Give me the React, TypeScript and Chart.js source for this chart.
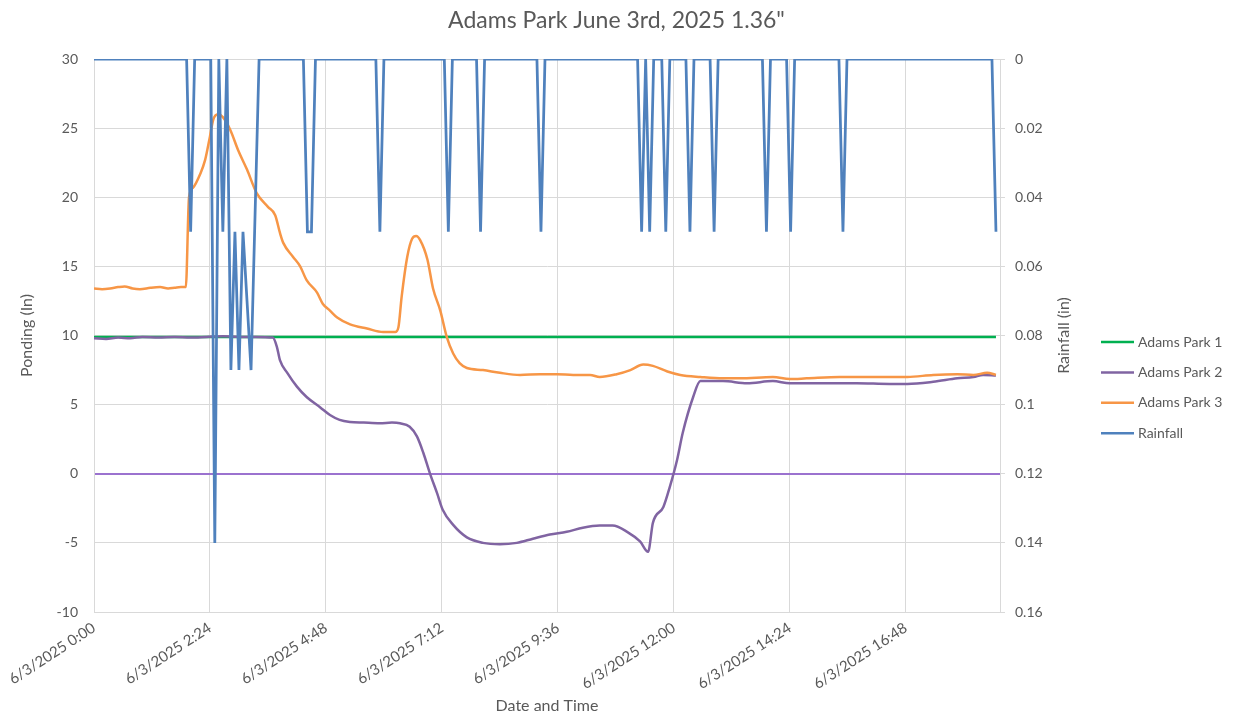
import React, { useEffect, useRef } from "react";
import { Chart, registerables } from "chart.js";

Chart.register(...registerables);

// ---------- text ----------
const TITLE = 'Adams Park June 3rd, 2025 1.36"';
const DATE_PREFIX = "6/3/2025";
const X_TITLE = "Date and Time";
const Y_LEFT_TITLE = "Ponding (In)";
const Y_RIGHT_TITLE = "Rainfall (in)";
const SERIES_NAMES = ["Adams Park 1", "Adams Park 2", "Adams Park 3", "Rainfall"];

// ---------- axes (minutes after midnight for x) ----------
const X_MIN = 0;
const X_MAX = 1125;
const X_STEP = 144;
const PONDING_MIN = -10;
const PONDING_MAX = 30;
const PONDING_STEP = 5;
const RAIN_MIN = 0;
const RAIN_MAX = 0.16;
const RAIN_STEP = 0.02;

// ---------- data ----------
// Rainfall: 5-minute record, zero except at these times
const RAIN_END = 1120;
const RAIN_INTERVAL = 5;
const rainTimes = [120, 150, 160, 170, 175, 180, 185, 190, 195, 200, 265, 270, 355, 440, 480, 555, 680, 690, 710, 740, 770, 835, 865, 930, 1120];
const rainValues = [0.05, 0.14, 0.05, 0.09, 0.05, 0.09, 0.05, 0.07, 0.09, 0.045, 0.05, 0.05, 0.05, 0.05, 0.05, 0.05, 0.05, 0.05, 0.05, 0.05, 0.05, 0.05, 0.05, 0.05, 0.05];

// Adams Park 1: [minute, inches]
const adamsPark1: [number, number][] = [[0, 9.9], [560, 9.9], [1120, 9.9]];

// Adams Park 2: [minute, inches]
const adamsPark2: [number, number][] = [
  [0, 9.8], [15, 9.75], [30, 9.85], [45, 9.8], [60, 9.9], [80, 9.85], [100, 9.9], [120, 9.85],
  [140, 9.9], [160, 9.95], [180, 9.9], [200, 9.9], [222, 9.85], [227, 9.2], [231, 8.2], [240, 7.3],
  [252, 6.3], [264, 5.55], [281, 4.8], [293, 4.25], [305, 3.9], [318, 3.75], [335, 3.7], [355, 3.65],
  [370, 3.7], [380, 3.65], [392, 3.4], [401, 2.7], [409, 1.5], [417, 0.05], [426, -1.4], [433, -2.6],
  [446, -3.7], [463, -4.6], [483, -5.0], [504, -5.1], [525, -5.0], [545, -4.7], [566, -4.4], [587, -4.2],
  [607, -3.9], [628, -3.75], [644, -3.75], [662, -4.2], [678, -4.9], [688, -5.65], [694, -3.55], [707, -2.4],
  [715, -0.95], [724, 1.0], [731, 2.95], [744, 5.55], [753, 6.7], [765, 6.7], [781, 6.7], [811, 6.55],
  [843, 6.7], [864, 6.55], [905, 6.55], [947, 6.55], [988, 6.5], [1010, 6.5], [1042, 6.65], [1072, 6.9],
  [1092, 7.0], [1104, 7.15], [1120, 7.1],
];

// Adams Park 3: [minute, inches]
const adamsPark3: [number, number][] = [
  [0, 13.4], [10, 13.35], [20, 13.4], [30, 13.5], [38, 13.55], [48, 13.4], [57, 13.35], [70, 13.45],
  [82, 13.5], [92, 13.4], [100, 13.45], [108, 13.5], [114, 13.5], [118, 20.0], [123, 20.7], [132, 21.7],
  [138, 22.7], [144, 24.4], [148, 25.6], [154, 26.0], [160, 25.8], [169, 24.9], [179, 23.4], [190, 22.0],
  [202, 20.3], [216, 19.3], [225, 18.7], [231, 17.4], [235, 16.7], [247, 15.7], [256, 15.0], [264, 14.0],
  [277, 13.1], [284, 12.3], [293, 11.8], [302, 11.3], [318, 10.8], [339, 10.5], [359, 10.25], [374, 10.25],
  [378, 10.6], [382, 12.8], [389, 15.7], [395, 17.0], [400, 17.2], [405, 16.9], [414, 15.5], [421, 13.4],
  [430, 11.8], [438, 9.9], [446, 8.7], [454, 8.0], [463, 7.65], [483, 7.5], [504, 7.3], [529, 7.15],
  [554, 7.2], [575, 7.2], [595, 7.15], [616, 7.15], [628, 7.0], [649, 7.2], [666, 7.5], [682, 7.9],
  [694, 7.8], [712, 7.4], [728, 7.15], [753, 7.0], [781, 6.9], [802, 6.9], [843, 7.0], [864, 6.85],
  [885, 6.9], [926, 7.0], [967, 7.0], [1010, 7.0], [1042, 7.15], [1072, 7.2], [1092, 7.15], [1109, 7.3],
  [1120, 7.15],
];

// ---------- styles ----------
const FONT = "Lato, 'Open Sans', sans-serif";
const TEXT = "#595959";
const GRID = "#D9D9D9";
const ZERO_LINE = "#9B72CF";
const COLORS = ["#00B050", "#8064A2", "#F79646", "#4F81BD"];

const pad2 = (n: number) => (n < 10 ? "0" + n : String(n));
const fmtTime = (v: number) => `${DATE_PREFIX} ${Math.floor(v / 60)}:${pad2(Math.round(v % 60))}`;

const sideLegend = {
  id: "sideLegend",
  afterDraw(chart: any) {
    const ctx = chart.ctx;
    const area = chart.chartArea;
    const x0 = 1101, x1 = 1134, tx = 1138, y0 = 342, dy = 30.4;
    ctx.save();
    // right axis title, reading bottom-to-top
    ctx.font = `16px ${FONT}`;
    ctx.fillStyle = TEXT;
    ctx.textAlign = "center";
    ctx.textBaseline = "middle";
    ctx.translate(1064, (area.top + area.bottom) / 2);
    ctx.rotate(-Math.PI / 2);
    ctx.fillText(Y_RIGHT_TITLE, 0, 0);
    ctx.restore();

    ctx.save();
    ctx.font = `14px ${FONT}`;
    ctx.textBaseline = "middle";
    ctx.textAlign = "left";
    chart.data.datasets.forEach((ds: any, i: number) => {
      const y = y0 + i * dy;
      ctx.strokeStyle = ds.borderColor;
      ctx.lineWidth = 2.5;
      ctx.beginPath();
      ctx.moveTo(x0, y);
      ctx.lineTo(x1, y);
      ctx.stroke();
      ctx.fillStyle = TEXT;
      ctx.fillText(ds.label, tx, y);
    });
    ctx.restore();
  },
};

export default function App() {
  const ref = useRef<HTMLCanvasElement>(null);

  useEffect(() => {
    const canvas = ref.current;
    if (!canvas) return;
    const toPts = (pairs: [number, number][]) => pairs.map(([x, y]) => ({ x, y }));
    const rainPts: { x: number; y: number }[] = [];
    for (let t = 0; t <= RAIN_END; t += RAIN_INTERVAL) {
      const i = rainTimes.indexOf(t);
      rainPts.push({ x: t, y: i >= 0 ? rainValues[i] : 0 });
    }
    const series = [adamsPark1, adamsPark2, adamsPark3];
    const datasets: any[] = series.map((s, i) => ({
      label: SERIES_NAMES[i],
      data: toPts(s),
      borderColor: COLORS[i],
      backgroundColor: COLORS[i],
      borderWidth: 2.5,
      pointRadius: 0,
      cubicInterpolationMode: "monotone",
      yAxisID: "y",
      order: 4 - i,
    }));
    datasets.push({
      label: SERIES_NAMES[3],
      data: rainPts,
      borderColor: COLORS[3],
      backgroundColor: COLORS[3],
      borderWidth: 2.75,
      pointRadius: 0,
      tension: 0,
      yAxisID: "y1",
      order: 1,
    });

    const tickFont = { family: FONT, size: 14 };
    const titleFont = { family: FONT, size: 16 };

    const chart = new Chart(canvas, {
      type: "line",
      data: { datasets },
      options: {
        animation: false,
        responsive: false,
        devicePixelRatio: 1,
        layout: { padding: { left: 0, right: 0, top: 0, bottom: 0 } },
        plugins: {
          legend: { display: false },
          tooltip: { enabled: false },
          title: {
            display: true,
            text: TITLE,
            color: TEXT,
            font: { family: FONT, size: 23, weight: "normal" },
            padding: { top: 6.4, bottom: 25 },
          },
        },
        scales: {
          x: {
            type: "linear",
            min: X_MIN,
            max: X_MAX,
            ticks: {
              stepSize: X_STEP,
              includeBounds: false,
              autoSkip: false,
              minRotation: 33,
              maxRotation: 33,
              padding: 7,
              color: TEXT,
              font: { family: FONT, size: 15 },
              callback: (v: any) => fmtTime(Number(v)),
            },
            grid: { color: GRID, drawTicks: false },
            border: { color: GRID },
            title: { display: true, text: X_TITLE, color: TEXT, font: titleFont, padding: { top: 0, bottom: 0 } },
            afterFit: (s: any) => {
              s.height = 103;
              s.paddingLeft = 0;
              s.paddingRight = 0;
            },
          },
          y: {
            position: "left",
            min: PONDING_MIN,
            max: PONDING_MAX,
            ticks: { stepSize: PONDING_STEP, padding: 16, color: TEXT, font: tickFont },
            grid: {
              color: (c: any) => (c.tick && c.tick.value === 0 ? ZERO_LINE : GRID),
              lineWidth: (c: any) => (c.tick && c.tick.value === 0 ? 2 : 1),
              drawTicks: false,
            },
            border: { color: GRID },
            title: { display: true, text: Y_LEFT_TITLE, color: TEXT, font: titleFont, padding: { top: 17.4, bottom: 0 } },
            afterFit: (s: any) => {
              s.width = 94;
            },
          },
          y1: {
            position: "right",
            min: RAIN_MIN,
            max: RAIN_MAX,
            reverse: true,
            ticks: {
              stepSize: RAIN_STEP,
              padding: 10,
              color: TEXT,
              font: tickFont,
              callback: (v: any) => String(Number(Number(v).toFixed(2))),
            },
            grid: { drawOnChartArea: false, color: GRID, tickLength: 5 },
            border: { color: GRID },
            title: { display: false, text: Y_RIGHT_TITLE },
            afterFit: (s: any) => {
              s.width = 233;
            },
          },
        },
      } as any,
      plugins: [sideLegend],
    });
    return () => chart.destroy();
  }, []);

  return (
    <div style={{ position: "fixed", left: 0, top: 0, width: 1233, height: 715, background: "#fff" }}>
      <canvas ref={ref} width={1233} height={715} style={{ width: 1233, height: 715, display: "block" }} />
    </div>
  );
}
